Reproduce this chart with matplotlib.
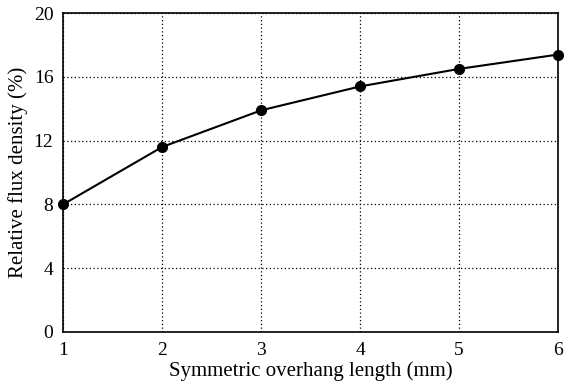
import matplotlib

matplotlib.use("Agg")

import matplotlib.pyplot as plt

# overhang length (mm) vs relative flux density (%)
overhang_mm = [1, 2, 3, 4, 5, 6]
flux_density = [8.0, 11.6, 13.9, 15.4, 16.5, 17.4]
y_ticks = [0, 4, 8, 12, 16, 20]

plt.rcParams.update({
    "font.family": "Liberation Serif",
    "font.size": 15,
})

fig = plt.figure(figsize=(5.69, 3.85), dpi=100)
ax = fig.add_axes([0.111, 0.138, 0.870, 0.828])

ax.plot(overhang_mm, flux_density, color="black", linewidth=1.5,
        marker="o", markersize=7, clip_on=False, zorder=3)

ax.set_xlim(1, 6)
ax.set_ylim(0, 20)
ax.set_xticks(overhang_mm)
ax.set_yticks(y_ticks)
ax.tick_params(length=0, pad=7, labelsize=14)

ax.grid(True, color="black", linestyle=(0, (1, 2)), linewidth=0.9)
for spine in ax.spines.values():
    spine.set_linewidth(1.2)

ax.set_xlabel("Symmetric overhang length (mm)", labelpad=2)
ax.set_ylabel("Relative flux density (%)", labelpad=4)

fig.savefig("out.png", dpi=100)
